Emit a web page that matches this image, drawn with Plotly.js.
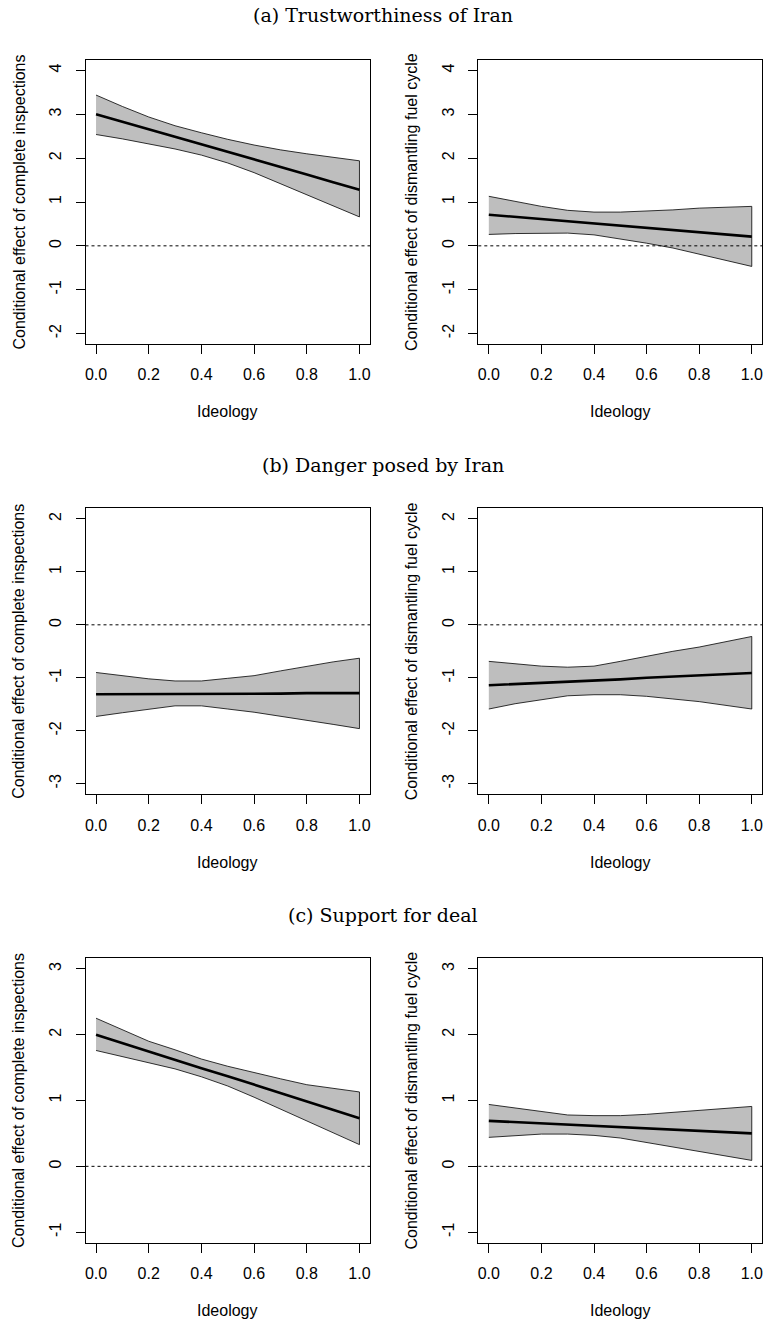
<!DOCTYPE html>
<html>
<head>
<meta charset="utf-8">
<script src="https://cdn.plot.ly/plotly-3.0.1.min.js"></script>
<style>html,body{margin:0;padding:0;background:#fff;}#chart{width:766px;height:1324px;}</style>
</head>
<body>
<div id="chart"></div>
<script>
// Ideology grid
const ideology = [0, 0.1, 0.2, 0.3, 0.4, 0.5, 0.6, 0.7, 0.8, 0.9, 1.0];

// (a) Trustworthiness of Iran
const trustInspEst   = [3.00, 2.83, 2.66, 2.49, 2.31, 2.14, 1.97, 1.80, 1.63, 1.45, 1.28];
const trustInspUpper = [3.44, 3.18, 2.94, 2.74, 2.58, 2.43, 2.30, 2.19, 2.10, 2.02, 1.94];
const trustInspLower = [2.54, 2.44, 2.33, 2.21, 2.07, 1.89, 1.67, 1.42, 1.17, 0.91, 0.66];
const trustFuelEst   = [0.71, 0.66, 0.61, 0.56, 0.51, 0.46, 0.41, 0.36, 0.31, 0.26, 0.21];
const trustFuelUpper = [1.13, 1.01, 0.90, 0.81, 0.77, 0.77, 0.79, 0.82, 0.86, 0.88, 0.90];
const trustFuelLower = [0.26, 0.28, 0.29, 0.29, 0.25, 0.16, 0.06, -0.05, -0.20, -0.33, -0.47];

// (b) Danger posed by Iran
const dangerInspEst   = [-1.31, -1.31, -1.31, -1.30, -1.30, -1.30, -1.30, -1.30, -1.29, -1.29, -1.29];
const dangerInspUpper = [-0.90, -0.96, -1.02, -1.06, -1.06, -1.01, -0.96, -0.87, -0.78, -0.70, -0.63];
const dangerInspLower = [-1.73, -1.66, -1.59, -1.53, -1.53, -1.59, -1.65, -1.72, -1.80, -1.88, -1.96];
const dangerFuelEst   = [-1.14, -1.12, -1.09, -1.07, -1.05, -1.03, -1.00, -0.98, -0.96, -0.93, -0.91];
const dangerFuelUpper = [-0.69, -0.74, -0.78, -0.80, -0.78, -0.69, -0.59, -0.50, -0.42, -0.32, -0.22];
const dangerFuelLower = [-1.59, -1.49, -1.41, -1.34, -1.32, -1.32, -1.35, -1.40, -1.45, -1.52, -1.59];

// (c) Support for deal
const supportInspEst   = [2.00, 1.87, 1.75, 1.62, 1.49, 1.37, 1.24, 1.11, 0.99, 0.86, 0.73];
const supportInspUpper = [2.25, 2.07, 1.90, 1.77, 1.63, 1.52, 1.42, 1.33, 1.24, 1.18, 1.13];
const supportInspLower = [1.76, 1.67, 1.57, 1.48, 1.36, 1.22, 1.05, 0.88, 0.70, 0.51, 0.33];
const supportFuelEst   = [0.69, 0.67, 0.65, 0.63, 0.61, 0.59, 0.58, 0.56, 0.54, 0.52, 0.50];
const supportFuelUpper = [0.94, 0.89, 0.84, 0.78, 0.77, 0.77, 0.79, 0.82, 0.85, 0.88, 0.91];
const supportFuelLower = [0.44, 0.47, 0.49, 0.49, 0.47, 0.43, 0.37, 0.30, 0.23, 0.16, 0.09];

// Labels
const panelTitles = ["(a) Trustworthiness of Iran", "(b) Danger posed by Iran", "(c) Support for deal"];
const yTitleInsp = "Conditional effect of complete inspections";
const yTitleFuel = "Conditional effect of dismantling fuel cycle";
const xTitle = "Ideology";
const xTickVals = [0, 0.2, 0.4, 0.6, 0.8, 1.0];
const xTickText = ["0.0", "0.2", "0.4", "0.6", "0.8", "1.0"];
const yTicksA = [-2, -1, 0, 1, 2, 3, 4];
const yTicksB = [-3, -2, -1, 0, 1, 2];
const yTicksC = [-1, 0, 1, 2, 3];

const panels = [
  {est: trustInspEst, up: trustInspUpper, lo: trustInspLower, yt: yTitleInsp, ticks: yTicksA, lim: [-2, 4]},
  {est: trustFuelEst, up: trustFuelUpper, lo: trustFuelLower, yt: yTitleFuel, ticks: yTicksA, lim: [-2, 4]},
  {est: dangerInspEst, up: dangerInspUpper, lo: dangerInspLower, yt: yTitleInsp, ticks: yTicksB, lim: [-3, 2]},
  {est: dangerFuelEst, up: dangerFuelUpper, lo: dangerFuelLower, yt: yTitleFuel, ticks: yTicksB, lim: [-3, 2]},
  {est: supportInspEst, up: supportInspUpper, lo: supportInspLower, yt: yTitleInsp, ticks: yTicksC, lim: [-1, 3]},
  {est: supportFuelEst, up: supportFuelUpper, lo: supportFuelLower, yt: yTitleFuel, ticks: yTicksC, lim: [-1, 3]}
];

const W = 766, H = 1324;
const colBox = [[85.5, 370], [478.3, 762.3]];
const rowBox = [[60, 344], [508.3, 794.3], [958.3, 1242.7]];
const titleY = [15, 465, 915];

const data = [];
const shapes = [];
const annotations = [];
const layout = {
  width: W, height: H,
  margin: {l: 0, r: 0, t: 0, b: 0},
  paper_bgcolor: "#fff", plot_bgcolor: "#fff",
  showlegend: false,
  font: {family: "Liberation Sans, Arial, sans-serif", size: 16, color: "#000"}
};

const axisFont = {family: "Liberation Sans, Arial, sans-serif", size: 16, color: "#000"};

panels.forEach((p, i) => {
  const r = Math.floor(i / 2), c = i % 2;
  const n = i + 1;
  const xa = "x" + (n === 1 ? "" : n), ya = "y" + (n === 1 ? "" : n);
  const xk = "xaxis" + (n === 1 ? "" : n), yk = "yaxis" + (n === 1 ? "" : n);
  const [l, rr] = colBox[c];
  const [t, b] = rowBox[r];
  const span = p.lim[1] - p.lim[0];
  layout[xk] = {
    domain: [l / W, rr / W], anchor: ya,
    range: [-0.04, 1.04], tickvals: xTickVals, ticktext: xTickText,
    ticks: "outside", ticklen: 9, tickwidth: 1, tickcolor: "#000",
    showline: true, linecolor: "#000", linewidth: 1, mirror: true,
    showgrid: false, zeroline: false, tickfont: axisFont, ticklabelstandoff: 7
  };
  layout[yk] = {
    domain: [1 - b / H, 1 - t / H], anchor: xa,
    range: [p.lim[0] - 0.04 * span, p.lim[1] + 0.04 * span],
    tickvals: p.ticks, ticktext: p.ticks.map(v => String(v)),
    ticks: "outside", ticklen: 9, tickwidth: 1, tickcolor: "#000",
    showline: true, linecolor: "#000", linewidth: 1, mirror: true,
    showgrid: false, zeroline: false, tickfont: axisFont, tickangle: -90, ticklabelstandoff: 8
  };
  // confidence band
  data.push({
    type: "scatter", mode: "lines", xaxis: xa, yaxis: ya,
    x: ideology.concat(ideology.slice().reverse()),
    y: p.up.concat(p.lo.slice().reverse()),
    fill: "toself", fillcolor: "#BEBEBE",
    line: {color: "#000", width: 0.8}, hoverinfo: "skip"
  });
  // estimate line
  data.push({
    type: "scatter", mode: "lines", xaxis: xa, yaxis: ya,
    x: ideology, y: p.est, line: {color: "#000", width: 2.6}
  });
  // zero reference line
  shapes.push({
    type: "line", xref: xa + " domain", yref: ya, x0: 0, x1: 1, y0: 0, y1: 0,
    line: {color: "#000", width: 1, dash: "dot"}
  });
  // y title
  annotations.push({
    xref: "paper", yref: "paper", x: (c === 0 ? 18.5 : 411) / W, y: 1 - ((t + b) / 2) / H,
    text: p.yt, textangle: -90, showarrow: false, xanchor: "center", yanchor: "middle",
    font: axisFont
  });
  // x title
  annotations.push({
    xref: "paper", yref: "paper", x: ((l + rr) / 2) / W, y: 1 - (b + 68) / H,
    text: xTitle, showarrow: false, xanchor: "center", yanchor: "middle", font: axisFont
  });
});

panelTitles.forEach((txt, r) => {
  annotations.push({
    xref: "paper", yref: "paper", x: 0.5, y: 1 - titleY[r] / H,
    text: txt, showarrow: false, xanchor: "center", yanchor: "middle",
    font: {family: "DejaVu Serif, serif", size: 19, color: "#000"}
  });
});

layout.shapes = shapes;
layout.annotations = annotations;

Plotly.newPlot("chart", data, layout, {displayModeBar: false, staticPlot: true});
</script>
</body>
</html>
